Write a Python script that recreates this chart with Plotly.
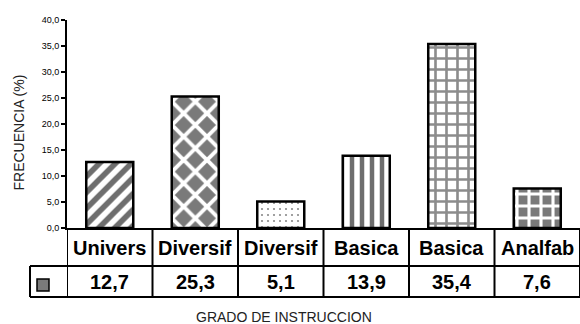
import plotly.graph_objects as go

# Education level categories and their frequency (%)
categorias = ["Univers", "Diversif", "Diversif", "Basica", "Basica", "Analfab"]
frecuencias = [12.7, 25.3, 5.1, 13.9, 35.4, 7.6]
y_ticks = [0, 5, 10, 15, 20, 25, 30, 35, 40]

# Fill pattern for each bar
GRIS = "#6e6e6e"
patrones = [
    dict(shape="/", size=11.3, solidity=0.5, fgcolor=GRIS, bgcolor="white", fgopacity=1),
    dict(shape="x", size=16.5, solidity=0.42, fgcolor="white", bgcolor="#7a7a7a", fgopacity=1),
    dict(shape=".", size=6, solidity=0.1, fgcolor="#8a8a8a", bgcolor="white", fgopacity=1),
    dict(shape="|", size=10, solidity=0.45, fgcolor=GRIS, bgcolor="white", fgopacity=1),
    dict(shape="+", size=11, solidity=0.42, fgcolor="#8c8c8c", bgcolor="white", fgopacity=1),
    dict(shape="+", size=12, solidity=0.45, fgcolor="white", bgcolor="#7a7a7a", fgopacity=1),
]

W, H = 580, 324
L, R, T, B = 67, 0, 20, 96
PW, PH = W - L - R, H - T - B


def px_x(p):
    return (p - L) / PW


def px_y(p):
    return (H - B - p) / PH


FONT = "Liberation Sans, Arial, sans-serif"

fig = go.Figure()
for i, (v, pat) in enumerate(zip(frecuencias, patrones)):
    fig.add_trace(go.Bar(
        x=[i], y=[v], width=0.55,
        marker=dict(color="white", pattern=pat,
                    line=dict(color="black", width=2.5)),
        showlegend=False, hoverinfo="skip",
    ))

fig.update_layout(
    width=W, height=H,
    margin=dict(l=L, r=R, t=T, b=B),
    paper_bgcolor="white", plot_bgcolor="white",
    separators=",.",
    font=dict(family=FONT, color="black"),
    xaxis=dict(range=[-0.5, len(categorias) - 0.5], showticklabels=False,
               ticks="", showgrid=False, zeroline=False,
               showline=True, linecolor="black", linewidth=2),
    yaxis=dict(range=[0, 40], tickvals=y_ticks, tickformat=".1f",
               ticks="outside", ticklen=4, tickwidth=1.5, tickcolor="black",
               tickfont=dict(size=9, color="black"),
               showgrid=False, zeroline=False,
               showline=True, linecolor="black", linewidth=2),
)

# Data table under the axis: header row with categories, value row below
y_top = H - B
y_mid = 266
y_bot = 297
x_key = 30
shapes = []
for i in range(len(categorias) + 1):
    shapes.append(dict(type="line", xref="x", yref="paper",
                       x0=i - 0.5, x1=i - 0.5, y0=px_y(y_top), y1=px_y(y_bot),
                       line=dict(color="black", width=2)))
for yy in (y_mid, y_bot):
    shapes.append(dict(type="line", xref="paper", yref="paper",
                       x0=px_x(x_key), x1=1, y0=px_y(yy), y1=px_y(yy),
                       line=dict(color="black", width=2)))
shapes.append(dict(type="line", xref="paper", yref="paper",
                   x0=px_x(x_key), x1=px_x(x_key), y0=px_y(y_mid), y1=px_y(y_bot),
                   line=dict(color="black", width=2)))
# series key swatch
shapes.append(dict(type="rect", xref="paper", yref="paper",
                   x0=px_x(37), x1=px_x(49), y0=px_y(291), y1=px_y(279),
                   fillcolor="#7a7a7a", line=dict(color="black", width=1.5)))
fig.update_layout(shapes=shapes)

annotations = []
for i, (c, v) in enumerate(zip(categorias, frecuencias)):
    annotations.append(dict(x=i, y=px_y((y_top + y_mid) / 2 + 1), xref="x", yref="paper",
                            text=f"<b>{c}</b>", showarrow=False,
                            xanchor="center", yanchor="middle",
                            font=dict(size=20, color="black", family=FONT)))
    annotations.append(dict(x=i, y=px_y((y_mid + y_bot) / 2), xref="x", yref="paper",
                            text=f"<b>{v:.1f}</b>".replace(".", ","), showarrow=False,
                            xanchor="center", yanchor="middle",
                            font=dict(size=20, color="black", family=FONT)))
annotations.append(dict(x=px_x(18), y=px_y(132.5), xref="paper", yref="paper",
                        text="FRECUENCIA (%)", textangle=-90, showarrow=False,
                        xanchor="center", yanchor="middle",
                        font=dict(size=14, color="#222222", family=FONT)))
annotations.append(dict(x=px_x(284), y=px_y(316.5), xref="paper", yref="paper",
                        text="GRADO DE INSTRUCCION", showarrow=False,
                        xanchor="center", yanchor="middle",
                        font=dict(size=14, color="#222222", family=FONT)))
fig.update_layout(annotations=annotations)

fig.write_html("out.html")
